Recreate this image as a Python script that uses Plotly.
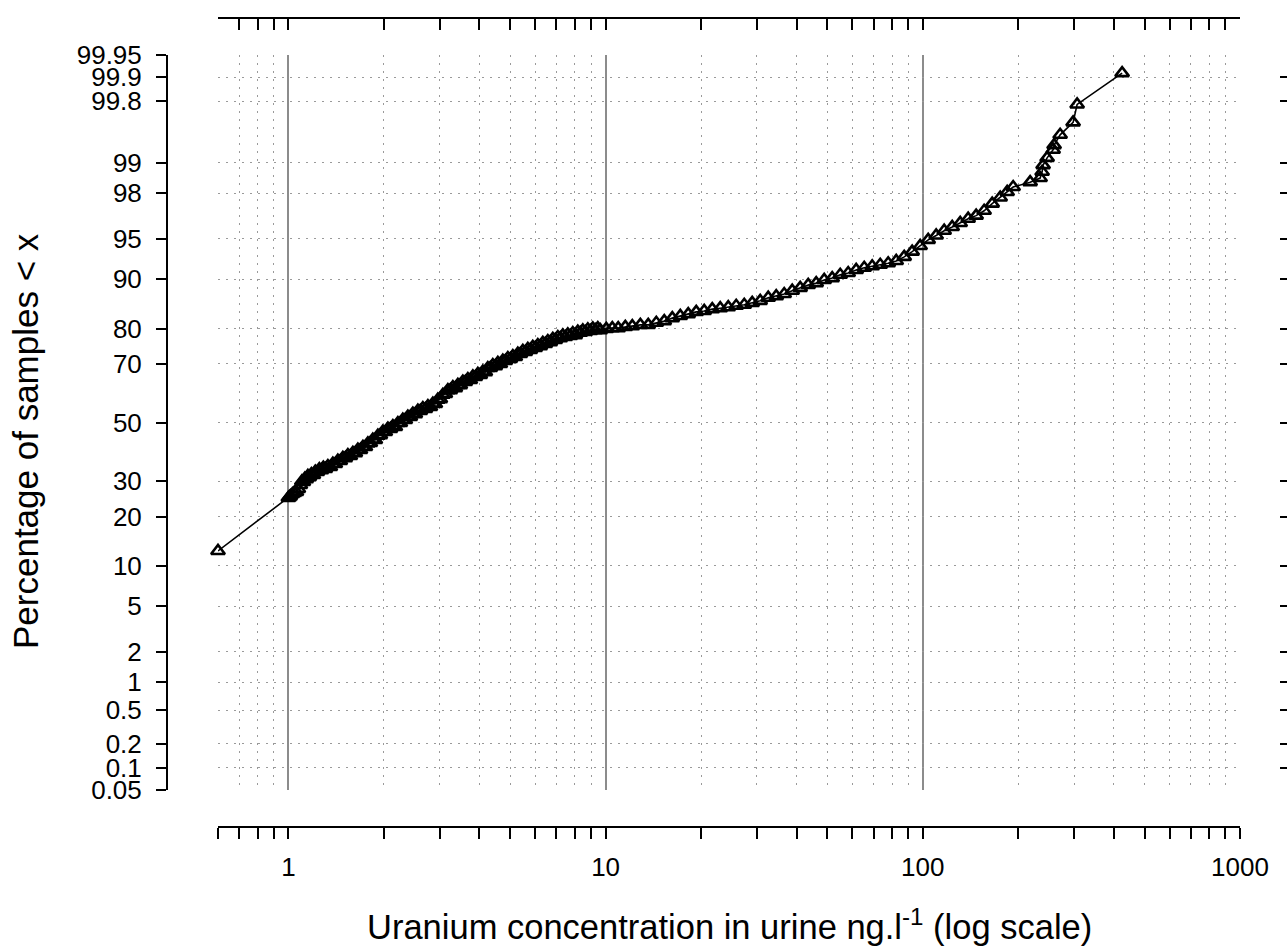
import math
from statistics import NormalDist
import plotly.graph_objects as go

# ---- data (uranium in urine, ng/l ; percentage of samples < x)
uranium_ng_l = [0.6, 1.000, 1.007, 1.015, 1.030, 1.044, 1.060, 1.075, 1.091, 1.115, 1.139, 1.165,
                1.199, 1.234, 1.271, 1.308, 1.356, 1.406, 1.458, 1.512, 1.568, 1.626, 1.687, 1.749,
                1.813, 1.880, 1.950, 2.021, 2.097, 2.174, 2.254, 2.337, 2.424, 2.513, 2.606, 2.703,
                2.803, 2.906, 3.013, 3.125, 3.241, 3.360, 3.484, 3.613, 3.746, 3.885, 4.028, 4.177,
                4.331, 4.491, 4.658, 4.830, 5.008, 5.193, 5.385, 5.584, 5.790, 6.003, 6.226, 6.456,
                6.694, 6.942, 7.198, 7.464, 7.740, 8.026, 8.323, 8.630, 8.950, 9.280, 9.623, 10.05,
                10.50, 10.96, 11.54, 12.14, 12.87, 13.63, 14.45, 15.31, 16.23, 17.20, 18.22, 19.31,
                20.46, 21.69, 22.98, 24.36, 25.81, 27.36, 28.99, 30.72, 32.56, 34.51, 36.57, 38.76,
                41.07, 43.53, 46.13, 48.89, 51.81, 54.91, 58.19, 61.66, 65.36, 69.27, 73.41, 77.80,
                82.45, 87.38, 92.58, 98.1, 104.0, 110.2, 116.8, 123.8, 131.2, 139.0, 147.3, 156.1,
                165.5, 175.4, 184.5, 192.7, 218.0, 234.4, 237.8, 239.5, 246.6, 257.6, 259.4, 271.0,
                297.8, 306.6, 425.0]

pct_below = [12.5, 25.0, 25.2, 25.5, 26.1, 26.4, 26.7, 27.6, 28.8, 29.7, 30.6, 31.3,
             31.9, 32.9, 33.5, 33.9, 34.5, 35.5, 36.5, 37.5, 38.2, 39.2, 40.3, 41.3,
             42.7, 43.8, 45.5, 46.6, 47.7, 48.4, 49.8, 50.9, 52.0, 53.0, 54.1, 54.8,
             55.5, 56.6, 58.3, 60.1, 61.4, 62.1, 63.1, 64.2, 64.8, 65.8, 66.5, 67.4,
             68.7, 69.3, 70.0, 70.9, 71.5, 72.1, 73.0, 73.6, 74.2, 74.8, 75.3, 75.9,
             76.4, 77.0, 77.5, 77.8, 78.1, 78.3, 78.9, 79.1, 79.4, 79.6, 79.6, 79.9,
             80.1, 80.1, 80.4, 80.6, 80.9, 80.9, 81.4, 81.8, 82.5, 83.0, 83.4, 83.9,
             84.1, 84.5, 84.7, 84.9, 85.2, 85.4, 85.8, 86.2, 86.8, 87.1, 87.5, 88.1,
             88.6, 89.1, 89.4, 89.9, 90.2, 90.7, 90.96, 91.4, 91.7, 91.9, 92.1, 92.3,
             92.6, 93.1, 93.7, 94.3, 94.9, 95.3, 95.7, 96.0, 96.3, 96.6, 96.8, 97.1,
             97.5, 97.8, 98.05, 98.25, 98.43, 98.57, 98.76, 98.94, 99.11, 99.27, 99.35, 99.50,
             99.64, 99.78, 99.912]

# additional samples read in the densely packed band between 1 and 10 ng/l
dense_band_ng_l = [1.103, 1.127, 1.152, 1.182, 1.216, 1.252, 1.289, 1.332,
                   1.381, 1.432, 1.485, 1.540, 1.597, 1.656, 1.718, 1.781, 1.846, 1.915,
                   1.985, 2.059, 2.135, 2.214, 2.295, 2.380, 2.468, 2.560, 2.654, 2.753,
                   2.854, 2.959, 3.069, 3.183, 3.300, 3.422, 3.548, 3.679, 3.815, 3.956,
                   4.102, 4.253, 4.410, 4.574, 4.743, 4.918, 5.100, 5.288, 5.484, 5.686,
                   5.895, 6.114, 6.340, 6.574, 6.817, 7.069, 7.330, 7.601, 7.882, 8.173,
                   8.476, 8.789, 9.114, 9.450]
dense_band_pct = [29.9, 30.8, 31.6, 32.2, 33.0, 33.8, 34.3, 34.8,
                  35.6, 36.6, 37.6, 38.5, 39.3, 40.4, 41.4, 42.6, 43.9, 45.3,
                  46.7, 47.8, 48.7, 49.8, 51.0, 52.1, 53.2, 54.2, 55.1, 55.8,
                  56.7, 58.1, 59.8, 61.4, 62.4, 63.2, 64.3, 65.1, 66.0, 66.8,
                  67.6, 68.7, 69.6, 70.3, 71.0, 71.8, 72.4, 73.1, 73.9, 74.5,
                  75.1, 75.6, 76.2, 76.7, 77.3, 77.8, 78.2, 78.5, 78.8, 79.2,
                  79.5, 79.8, 80.0, 80.1]

y_tick_pct = [0.05, 0.1, 0.2, 0.5, 1, 2, 5, 10, 20, 30, 50, 70, 80, 90, 95, 98, 99, 99.8, 99.9, 99.95]
y_tick_text = ["0.05", "0.1", "0.2", "0.5", "1", "2", "5", "10", "20", "30", "50", "70", "80",
               "90", "95", "98", "99", "99.8", "99.9", "99.95"]
x_major = [1, 10, 100, 1000]
x_major_text = ["1", "10", "100", "1000"]
x_minor = [0.6, 0.7, 0.8, 0.9, 2, 3, 4, 5, 6, 7, 8, 9, 20, 30, 40, 50, 60, 70, 80, 90,
           200, 300, 400, 500, 600, 700, 800, 900]

# merge and order the samples (ranked data)
pairs = sorted(zip(uranium_ng_l + dense_band_ng_l, pct_below + dense_band_pct))
xs = [p[0] for p in pairs]
ps = [p[1] for p in pairs]

nd = NormalDist()
probit = lambda p: nd.inv_cdf(p / 100.0)
y_z = [probit(p) for p in ps]
tick_z = [probit(p) for p in y_tick_pct]
y_range = [probit(0.05), probit(99.95)]
x_range = [math.log10(0.6), 3]

FONT = "Liberation Sans, Arial, Helvetica, sans-serif"
W, H = 1287, 952
ML, MR, MT, MB = 167, 0, 18, 125
PW, PH = W - ML - MR, H - MT - MB
xdom = [(218 - ML) / PW, (1240 - ML) / PW]
ydom = [(H - MB - 790) / PH, (H - MB - 55) / PH]

fig = go.Figure()
fig.add_trace(go.Scatter(
    x=xs, y=y_z, mode="lines+markers",
    line=dict(color="black", width=1.6),
    marker=dict(symbol="triangle-up-open", size=12, color="black", line=dict(width=2.6, color="black")),
    cliponaxis=False, showlegend=False, hoverinfo="x+text",
    text=[f"{p}%" for p in ps]))
fig.add_trace(go.Scatter(x=[None], y=[None], xaxis="x2", yaxis="y2", showlegend=False,
                         hoverinfo="skip"))

dot = "2px,6px"
fig.update_layout(
    width=W, height=H, autosize=False, showlegend=False,
    margin=dict(l=ML, r=MR, t=MT, b=MB, pad=0, autoexpand=False),
    paper_bgcolor="white", plot_bgcolor="white",
    font=dict(family=FONT, size=26, color="black"),
    xaxis=dict(
        type="log", range=x_range, domain=xdom, anchor="free", position=0, automargin=False,
        tickmode="array", tickvals=x_major, ticktext=x_major_text,
        ticks="outside", ticklen=11, tickwidth=2, tickcolor="black",
        showline=True, linewidth=2, linecolor="black",
        showgrid=True, gridcolor="#8c8c8c", gridwidth=2, zeroline=False,
        tickfont=dict(family=FONT, size=26, color="black"), ticklabelstandoff=6,
        minor=dict(tickmode="array", tickvals=x_minor, ticks="outside", ticklen=11, tickwidth=2,
                   tickcolor="black", showgrid=True, gridcolor="#9a9a9a", gridwidth=1, griddash=dot),
    ),
    xaxis2=dict(
        type="log", range=x_range, domain=xdom, anchor="free", position=1, overlaying="x", side="top",
        automargin=False, tickmode="array", tickvals=x_major, showticklabels=False,
        ticks="inside", ticklen=11, tickwidth=2, tickcolor="black",
        showline=True, linewidth=2, linecolor="black", showgrid=False, zeroline=False,
        minor=dict(tickmode="array", tickvals=x_minor, ticks="inside", ticklen=11, tickwidth=2,
                   tickcolor="black", showgrid=False),
    ),
    yaxis=dict(
        range=y_range, domain=ydom, anchor="free", position=0, automargin=False,
        tickmode="array", tickvals=tick_z, ticktext=y_tick_text,
        ticks="outside", ticklen=10, tickwidth=2, tickcolor="black",
        showline=True, linewidth=2, linecolor="black",
        showgrid=True, gridcolor="#9a9a9a", gridwidth=1, griddash=dot, zeroline=False,
        tickfont=dict(family=FONT, size=26, color="black"), ticklabelstandoff=9,
    ),
    yaxis2=dict(
        range=y_range, domain=ydom, anchor="free", position=1, overlaying="y", side="right",
        automargin=False, tickmode="array", tickvals=tick_z, showticklabels=False,
        ticks="inside", ticklen=7, tickwidth=2, tickcolor="black",
        showline=False, showgrid=False, zeroline=False,
    ),
    annotations=[
        dict(text="Uranium concentration in urine ng.l<sup>-1</sup> (log scale)",
             xref="paper", yref="paper", x=(729 - ML) / PW, y=-(924 - (H - MB)) / PH,
             xanchor="center", yanchor="middle", showarrow=False,
             font=dict(family=FONT, size=34.5, color="black")),
        dict(text="Percentage of samples &lt; x",
             xref="paper", yref="paper", x=(25 - ML) / PW, y=((H - MB) - 441) / PH,
             xanchor="center", yanchor="middle", showarrow=False, textangle=-90,
             font=dict(family=FONT, size=35, color="black")),
    ],
)

fig.write_html("out.html", config={"responsive": False})
